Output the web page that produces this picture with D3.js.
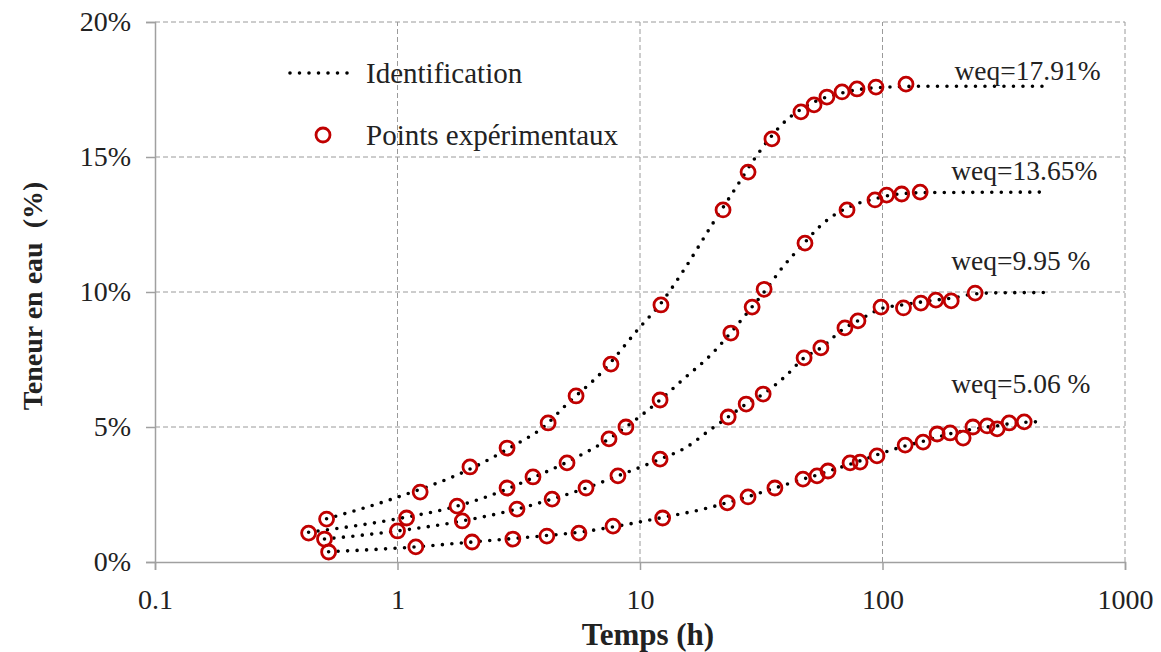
<!DOCTYPE html>
<html>
<head>
<meta charset="utf-8">
<script src="https://cdn.jsdelivr.net/npm/d3@7"></script>
<style>
  html, body { margin: 0; padding: 0; background: #fff; }
  svg { display: block; }
  text { font-family: "Liberation Serif", "Times New Roman", serif; fill: #222; white-space: pre; }
</style>
</head>
<body>
<svg id="chart" width="1161" height="652"></svg>
<script>
// ---- Data (time in hours, water content in %) ----
const xTicks = [0.1, 1, 10, 100, 1000];
const xTickLabels = ["0.1", "1", "10", "100", "1000"];
const yTicks = [0, 5, 10, 15, 20];
const yTickLabels = ["0%", "5%", "10%", "15%", "20%"];

// Experimental points
const expA_t = [0.51, 1.24, 1.99, 2.83, 4.18, 5.45, 7.59, 12.2, 22.0, 27.9, 35.0, 46.1, 52.2, 59.0, 68.1, 78.5, 94.0, 125];
const expA_w = [1.59, 2.59, 3.52, 4.22, 5.15, 6.15, 7.33, 9.52, 13.04, 14.44, 15.67, 16.67, 16.93, 17.22, 17.41, 17.52, 17.59, 17.70];

const expB_t = [0.43, 1.09, 1.76, 2.83, 3.62, 5.0, 7.45, 8.75, 12.1, 23.7, 29.0, 32.5, 47.9, 71.4, 93.1, 104, 120, 143];
const expB_w = [1.07, 1.63, 2.07, 2.74, 3.15, 3.67, 4.56, 5.0, 6.0, 8.48, 9.44, 10.1, 11.81, 13.04, 13.41, 13.59, 13.63, 13.70];

const expC_t = [0.50, 1.0, 1.85, 3.11, 4.34, 5.99, 8.11, 12.1, 23.1, 27.4, 32.2, 47.5, 55.7, 70.0, 79.2, 98.6, 122, 144, 166, 192, 241];
const expC_w = [0.85, 1.15, 1.52, 1.96, 2.33, 2.74, 3.19, 3.81, 5.37, 5.85, 6.22, 7.56, 7.93, 8.67, 8.93, 9.44, 9.41, 9.59, 9.70, 9.67, 9.96];

const expD_t = [0.52, 1.19, 2.03, 2.99, 4.13, 5.6, 7.74, 12.4, 22.9, 27.9, 36.0, 47.0, 53.7, 59.6, 73.5, 80.8, 94.9, 124, 147, 168, 190, 215, 236, 270, 297, 333, 384];
const expD_w = [0.37, 0.56, 0.74, 0.85, 0.96, 1.07, 1.33, 1.63, 2.19, 2.41, 2.74, 3.07, 3.19, 3.37, 3.67, 3.70, 3.93, 4.33, 4.44, 4.74, 4.78, 4.59, 5.0, 5.04, 4.93, 5.15, 5.19];

// Identification curves
const fitA_t = [0.51, 1, 2, 3, 4, 5, 7, 10, 12, 15, 20, 25, 30, 40, 50, 70, 100, 150, 480];
const fitA_w = [1.6, 2.4, 3.45, 4.3, 5.0, 5.85, 7.05, 8.7, 9.5, 10.75, 12.55, 13.9, 15.0, 16.35, 16.95, 17.4, 17.58, 17.62, 17.62];

const fitB_t = [0.43, 1, 1.76, 2.83, 3.62, 5, 7.45, 8.75, 12.1, 15, 20, 23.7, 29, 32.5, 39, 48, 54, 62, 75, 93, 110, 150, 480];
const fitB_w = [1.1, 1.6, 2.07, 2.7, 3.12, 3.7, 4.56, 5.0, 6.0, 6.75, 7.75, 8.5, 9.45, 10.0, 10.95, 11.85, 12.35, 12.8, 13.2, 13.45, 13.6, 13.68, 13.7];

const fitC_t = [0.5, 1, 1.85, 3.11, 4.34, 6, 8.11, 12.1, 15.6, 18.9, 23.1, 27.4, 32.2, 40, 47.5, 55.7, 70, 79, 100, 120, 150, 200, 240, 300, 480];
const fitC_w = [0.85, 1.15, 1.52, 1.96, 2.33, 2.74, 3.19, 3.81, 4.26, 4.81, 5.37, 5.85, 6.22, 6.9, 7.56, 7.93, 8.67, 8.93, 9.4, 9.52, 9.65, 9.8, 9.93, 9.97, 9.98];

const fitD_t = [0.52, 1.19, 2.03, 3, 4.13, 5.6, 7.74, 12.4, 20, 22.9, 27.9, 36, 47, 53.7, 60, 73.5, 81, 95, 124, 147, 168, 190, 215, 236, 270, 300, 333, 384, 460];
const fitD_w = [0.38, 0.56, 0.74, 0.87, 0.98, 1.1, 1.3, 1.65, 2.05, 2.2, 2.42, 2.74, 3.07, 3.22, 3.37, 3.62, 3.75, 3.97, 4.3, 4.47, 4.62, 4.75, 4.85, 4.92, 5.0, 5.05, 5.12, 5.17, 5.2];

const labels = ["weq=17.91%", "weq=13.65%", "weq=9.95 %", "weq=5.06 %"];
const labelT = [198, 192, 192, 192];
const labelW = [17.85, 14.15, 10.81, 6.26];

const legendNames = ["Identification", "Points expérimentaux"];
const xTitle = "Temps (h)";
const yTitle = "Teneur en eau  (%)";

// ---- Drawing ----
const svg = d3.select("#chart");
const x = d3.scaleLog().domain([0.1, 1000]).range([155, 1125]);
const y = d3.scaleLinear().domain([0, 20]).range([562, 22]);

const gridColor = "#9a9a9a";
const axisColor = "#a0a0a0";
const red = "#c00000";

// gridlines
svg.append("g").selectAll("line.h").data(yTicks.filter(d => d > 0)).join("line")
  .attr("x1", x(0.1)).attr("x2", x(1000))
  .attr("y1", d => y(d)).attr("y2", d => y(d))
  .attr("stroke", gridColor).attr("stroke-width", 1).attr("stroke-dasharray", "5,3");
svg.append("g").selectAll("line.v").data(xTicks.filter(d => d > 0.1)).join("line")
  .attr("x1", d => x(d)).attr("x2", d => x(d))
  .attr("y1", y(0)).attr("y2", y(20))
  .attr("stroke", gridColor).attr("stroke-width", 1).attr("stroke-dasharray", "5,3");

// axes
const xAxis = d3.axisBottom(x).tickValues(xTicks).tickFormat((d, i) => xTickLabels[i]).tickSize(8).tickPadding(19);
const gx = svg.append("g").attr("transform", `translate(0,${y(0)})`).call(xAxis);
const yAxis = d3.axisLeft(y).tickValues(yTicks).tickFormat((d, i) => yTickLabels[i]).tickSize(9).tickPadding(15);
const gy = svg.append("g").attr("transform", `translate(${x(0.1)},0)`).call(yAxis);
[gx, gy].forEach(g => {
  g.select(".domain").attr("stroke", axisColor).attr("stroke-width", 1.5);
  g.selectAll(".tick line").attr("stroke", axisColor).attr("stroke-width", 1.5);
  g.selectAll(".tick text").attr("font-family", "Liberation Serif").attr("font-size", 28).attr("fill", "#222");
});

// fitted curves
const fits = [[fitA_t, fitA_w], [fitB_t, fitB_w], [fitC_t, fitC_w], [fitD_t, fitD_w]];
const line = d3.line().x(d => x(d[0])).y(d => y(d[1])).curve(d3.curveMonotoneX);
svg.append("g").selectAll("path").data(fits).join("path")
  .attr("d", f => line(f[0].map((t, i) => [t, f[1][i]])))
  .attr("fill", "none").attr("stroke", "#000").attr("stroke-width", 3.6)
  .attr("stroke-linecap", "round").attr("stroke-dasharray", "0,9.5");

// experimental points
const exps = [[expA_t, expA_w], [expB_t, expB_w], [expC_t, expC_w], [expD_t, expD_w]];
exps.forEach(e => {
  svg.append("g").selectAll("circle").data(e[0].map((t, i) => [t, e[1][i]])).join("circle")
    .attr("cx", d => x(d[0])).attr("cy", d => y(d[1])).attr("r", 7)
    .attr("fill", "none").attr("stroke", red).attr("stroke-width", 2.8);
});

// weq labels
svg.append("g").selectAll("text").data(labels).join("text")
  .attr("x", (d, i) => x(labelT[i]))
  .attr("y", (d, i) => y(labelW[i]))
  .attr("font-size", 27.5)
  .text(d => d);

// legend
svg.append("line").attr("x1", 290).attr("x2", 355).attr("y1", 73).attr("y2", 73)
  .attr("stroke", "#000").attr("stroke-width", 3.6).attr("stroke-linecap", "round").attr("stroke-dasharray", "0,9.5");
svg.append("circle").attr("cx", 323).attr("cy", 135).attr("r", 7)
  .attr("fill", "none").attr("stroke", red).attr("stroke-width", 2.8);
svg.append("g").selectAll("text").data(legendNames).join("text")
  .attr("x", 366).attr("y", (d, i) => [73, 135][i]).attr("dy", "0.35em")
  .attr("font-size", 29).text(d => d);

// axis titles
svg.append("text").attr("x", 648).attr("y", 645)
  .attr("text-anchor", "middle").attr("font-weight", "bold").attr("font-size", 31).text(xTitle);
svg.append("text").attr("transform", "translate(42,296) rotate(-90)")
  .attr("text-anchor", "middle").attr("font-weight", "bold").attr("font-size", 28).text(yTitle);
</script>
</body>
</html>
